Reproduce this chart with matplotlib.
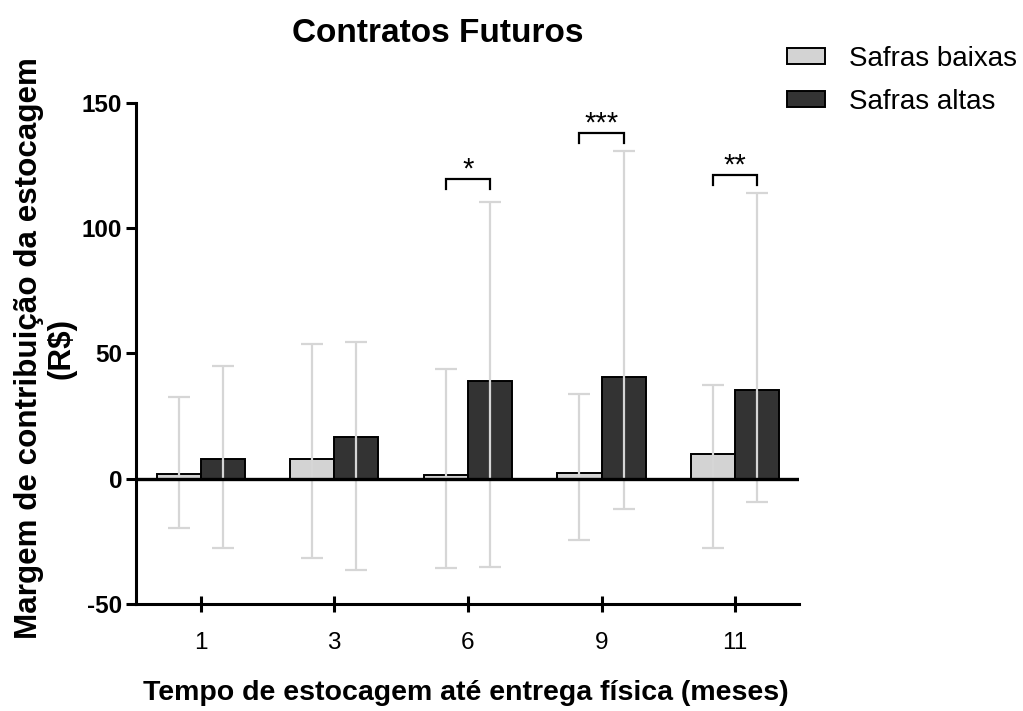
import matplotlib
matplotlib.use("Agg")
import matplotlib.pyplot as plt
import numpy as np

plt.rcParams['font.family'] = ['Liberation Sans', 'DejaVu Sans']

# ---- data ----
categories = ['1', '3', '6', '9', '11']
series_names = ['Safras baixas', 'Safras altas']
low_means = [2.0, 8.0, 1.6, 2.1, 10.0]
low_err_top = [32.7, 53.7, 43.7, 33.6, 37.4]
low_err_bottom = [-19.8, -31.6, -35.5, -24.6, -27.8]
high_means = [8.0, 16.6, 39.0, 40.6, 35.4]
high_err_top = [45.1, 54.7, 110.2, 130.9, 114.0]
high_err_bottom = [-27.8, -36.4, -35.1, -12.0, -9.4]
sig_groups = [2, 3, 4]
sig_labels = ['*', '***', '**']
sig_heights = [119.5, 137.8, 121.0]
y_ticks = [-50, 0, 50, 100, 150]

# ---- figure ----
fig = plt.figure(figsize=(10.23, 7.11), dpi=100)
ax = fig.add_axes([0.1329, 0.1505, 0.6484, 0.7051])

x = np.arange(len(categories))
w = 0.33
light = '#d3d3d3'
dark = '#333333'
errc = '#d6d6d6'

low_means_a = np.array(low_means)
high_means_a = np.array(high_means)
low_yerr = [low_means_a - np.array(low_err_bottom), np.array(low_err_top) - low_means_a]
high_yerr = [high_means_a - np.array(high_err_bottom), np.array(high_err_top) - high_means_a]

b1 = ax.bar(x - w / 2, low_means, w, color=light, edgecolor='black', linewidth=1.4,
            label=series_names[0], zorder=2)
b2 = ax.bar(x + w / 2, high_means, w, color=dark, edgecolor='black', linewidth=1.4,
            label=series_names[1], zorder=2)
ax.errorbar(x - w / 2, low_means, yerr=low_yerr, fmt='none', ecolor=errc,
            elinewidth=1.6, capsize=8, capthick=1.6, zorder=3)
ax.errorbar(x + w / 2, high_means, yerr=high_yerr, fmt='none', ecolor=errc,
            elinewidth=1.6, capsize=8, capthick=1.6, zorder=3)
ax.axhline(0, color='black', linewidth=2.4, zorder=4)

# significance brackets
for g, lab, h in zip(sig_groups, sig_labels, sig_heights):
    x1, x2 = g - w / 2, g + w / 2
    ax.plot([x1, x1, x2, x2], [h - 4, h, h, h - 4], color='black', lw=1.6,
            zorder=5, solid_joinstyle='miter', clip_on=False)
    ax.text(g, h + 0.8, lab, ha='center', va='baseline', fontsize=21, zorder=5)

ax.set_xlim(-0.484, 4.48)
ax.set_ylim(-50, 150)
ax.set_xticks(x)
ax.set_xticklabels(categories)
ax.set_yticks(y_ticks)
ax.set_yticklabels([str(t) for t in y_ticks], fontweight='bold')

for s in ['top', 'right']:
    ax.spines[s].set_visible(False)
for s in ['left', 'bottom']:
    ax.spines[s].set_linewidth(2.2)
ax.tick_params(axis='y', direction='out', length=7, width=2.2, labelsize=17.5, pad=3)
ax.tick_params(axis='x', direction='inout', length=12, width=2.2, labelsize=17.5, pad=14)

fig.text(438 / 1023, 1 - 33 / 711, 'Contratos Futuros', ha='center', va='center',
         fontsize=24, fontweight='bold')
fig.text(466 / 1023, 1 - 693 / 711, 'Tempo de estocagem até entrega física (meses)',
         ha='center', va='center', fontsize=20.5, fontweight='bold')
fig.text(45 / 1023, 1 - 348 / 711, 'Margem de contribuição da estocagem\n(R$)',
         ha='center', va='center', rotation=90, fontsize=22.6, fontweight='bold',
         multialignment='center', linespacing=1.1)

fig.legend(handles=[b1, b2], labels=series_names, loc='upper left',
           bbox_to_anchor=(787 / 1023, 1 - 46 / 711), bbox_transform=fig.transFigure,
           frameon=False, fontsize=20, handlelength=1.37, handleheight=0.5,
           handletextpad=0.86, labelspacing=0.6, borderpad=0, borderaxespad=0)

fig.savefig('out.png', dpi=100)
